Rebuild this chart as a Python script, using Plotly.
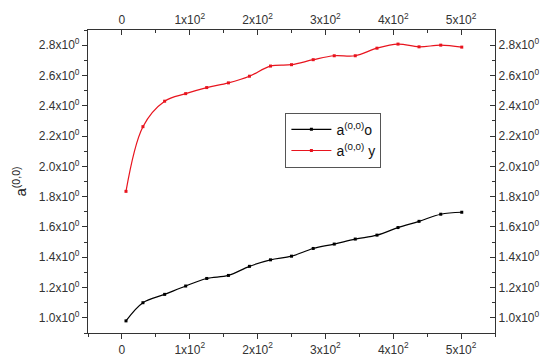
import plotly.graph_objects as go

x_vals = [6, 31, 63, 94, 125, 157, 188, 219, 250, 282, 313, 344, 376, 407, 438, 470, 501]
a_o = [0.98, 1.10, 1.155, 1.21, 1.26, 1.28, 1.34, 1.383, 1.407, 1.458, 1.487, 1.52, 1.546, 1.596, 1.637, 1.684, 1.697]
a_y = [1.835, 2.262, 2.43, 2.48, 2.52, 2.551, 2.595, 2.662, 2.671, 2.704, 2.73, 2.73, 2.78, 2.807, 2.789, 2.80, 2.787]

x_tickvals = [0, 100, 200, 300, 400, 500]
x_ticktext = ["0", "1x10<sup>2</sup>", "2x10<sup>2</sup>", "3x10<sup>2</sup>", "4x10<sup>2</sup>", "5x10<sup>2</sup>"]
y_tickvals = [1.0, 1.2, 1.4, 1.6, 1.8, 2.0, 2.2, 2.4, 2.6, 2.8]
y_ticktext = ["1.0x10<sup>0</sup>", "1.2x10<sup>0</sup>", "1.4x10<sup>0</sup>", "1.6x10<sup>0</sup>",
              "1.8x10<sup>0</sup>", "2.0x10<sup>0</sup>", "2.2x10<sup>0</sup>", "2.4x10<sup>0</sup>",
              "2.6x10<sup>0</sup>", "2.8x10<sup>0</sup>"]

x_range = [-50, 550]
y_range = [0.9, 2.9]
axis_col = "#333333"
font = dict(family="Liberation Sans, Arial, sans-serif", size=12, color="#333333")

fig = go.Figure()
fig.add_trace(go.Scatter(x=x_vals, y=a_o, mode="lines+markers", name="a<sup>(0,0)</sup>o",
                         line=dict(color="black", width=1.2, shape="spline"),
                         marker=dict(symbol="square", size=3, color="black")))
fig.add_trace(go.Scatter(x=x_vals, y=a_y, mode="lines+markers", name="a<sup>(0,0)</sup> y",
                         line=dict(color="#e8141e", width=1.2, shape="spline"),
                         marker=dict(symbol="square", size=3, color="#e8141e")))
# dummy trace to activate the top/right axes
fig.add_trace(go.Scatter(x=[x_vals[0]], y=[a_o[0]], xaxis="x2", yaxis="y2", mode="markers",
                         marker=dict(opacity=0), showlegend=False, hoverinfo="skip"))

common_x = dict(range=x_range, tickvals=x_tickvals, ticktext=x_ticktext, showgrid=False, zeroline=False,
                showline=True, linecolor=axis_col, linewidth=1.2, ticklen=5, tickcolor=axis_col, tickwidth=1.2,
                tickfont=font, automargin=False,
                minor=dict(dtick=50, tick0=0, ticklen=3, tickcolor=axis_col, showgrid=False))
common_y = dict(range=y_range, tickvals=y_tickvals, ticktext=y_ticktext, showgrid=False, zeroline=False,
                showline=True, linecolor=axis_col, linewidth=1.2, ticklen=5, tickcolor=axis_col, tickwidth=1.2,
                tickfont=font, automargin=False,
                minor=dict(dtick=0.1, tick0=0.9, ticklen=3, tickcolor=axis_col, showgrid=False))

xa = dict(common_x); xa["ticks"] = "outside"; xa["minor"] = dict(common_x["minor"], ticks="outside")
xb = dict(common_x); xb.update(ticks="inside", side="top", overlaying="x", anchor="y")
xb["minor"] = dict(common_x["minor"], ticks="inside")
ya = dict(common_y); ya["ticks"] = "outside"; ya["minor"] = dict(common_y["minor"], ticks="outside")
ya["title"] = dict(text="a<sup>(0,0)</sup>", font=dict(family="Liberation Sans, Arial, sans-serif", size=15, color="#222"), standoff=8)
yb = dict(common_y); yb.update(ticks="inside", side="right", overlaying="y", anchor="x")
yb["minor"] = dict(common_y["minor"], ticks="inside")

fig.update_layout(
    width=550, height=361,
    margin=dict(l=88, r=55, t=30, b=28, autoexpand=False),
    paper_bgcolor="white", plot_bgcolor="white",
    xaxis=xa, xaxis2=xb, yaxis=ya, yaxis2=yb,
    showlegend=True,
    legend=dict(x=0.485, y=0.727, xanchor="left", yanchor="top", bordercolor="#555555", borderwidth=1,
                bgcolor="white", font=dict(family="Liberation Sans, Arial, sans-serif", size=14, color="#111"),
                itemwidth=40, tracegroupgap=0),
)

fig.write_html("out.html", config={"displayModeBar": False},
               post_script="document.body.style.margin='0';document.body.style.overflow='hidden';")
